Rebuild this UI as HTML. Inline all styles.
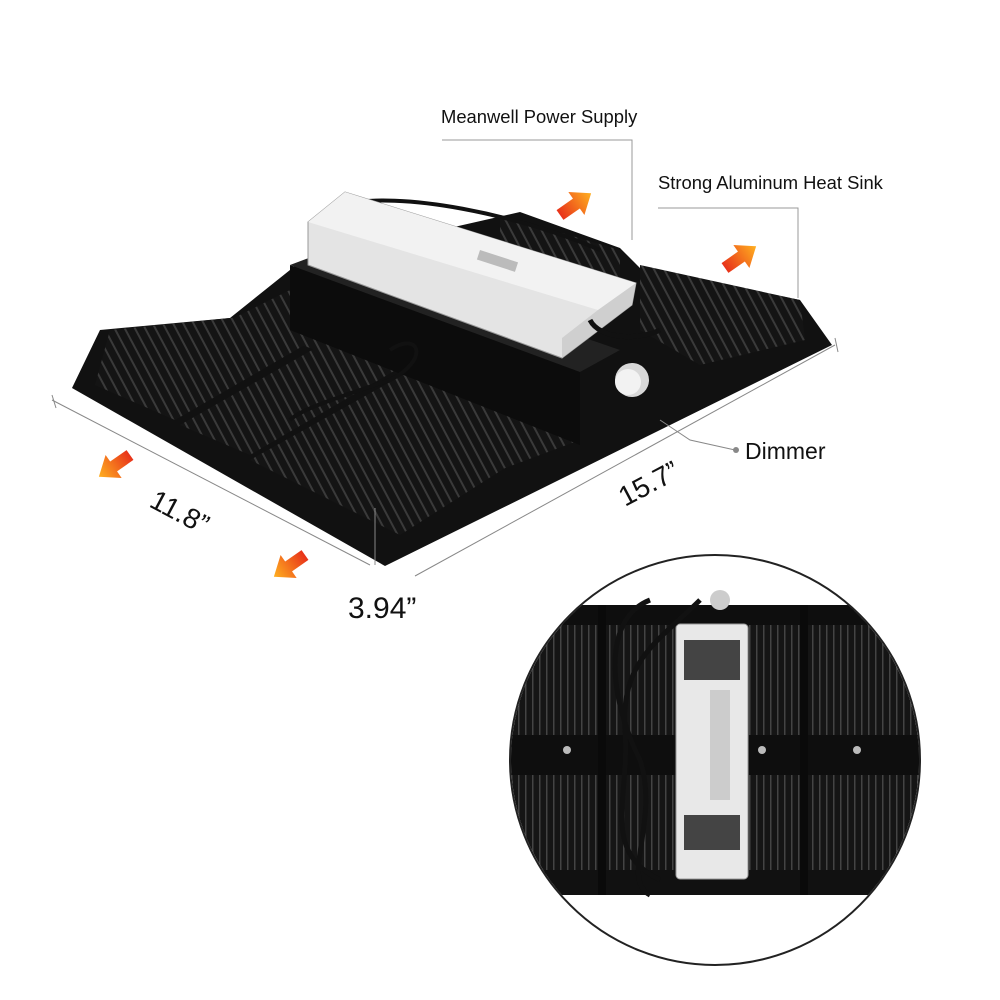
<!DOCTYPE html>
<html><head><meta charset="utf-8"><style>
html,body{margin:0;padding:0;background:#fff;}
svg{display:block;}
text{font-family:"Liberation Sans",sans-serif;fill:#111;}
</style></head><body>
<svg width="1000" height="1000" viewBox="0 0 1000 1000" xmlns="http://www.w3.org/2000/svg">
<defs>
<pattern id="fins" width="9" height="9" patternUnits="userSpaceOnUse" patternTransform="rotate(-28)">
<rect width="9" height="9" fill="#141414"/><rect width="2" height="9" fill="#3a3a3a"/>
</pattern>
<pattern id="fins2" width="7" height="7" patternUnits="userSpaceOnUse">
<rect width="7" height="7" fill="#151515"/><rect width="1.5" height="7" fill="#444"/>
</pattern>
<linearGradient id="arr" x1="0" y1="0" x2="1" y2="0">
<stop offset="0" stop-color="#e8321a"/><stop offset="1" stop-color="#ffb020"/>
</linearGradient>
<clipPath id="cc"><circle cx="715" cy="760" r="204"/></clipPath>
</defs>

<polygon points="72,388 100,330 230,318 300,262 520,212 620,248 640,268 800,300 832,345 385,566" fill="#111"/>
<polygon points="95,385 110,330 230,318 365,310 175,420" fill="url(#fins)"/>
<polygon points="180,425 365,320 430,350 250,455" fill="url(#fins)"/>
<polygon points="250,460 430,360 580,420 400,535" fill="url(#fins)"/>
<polygon points="230,320 300,285 400,318 330,355" fill="url(#fins)"/>
<polygon points="500,215 620,250 620,300 500,265" fill="url(#fins)"/>
<polygon points="640,265 800,300 805,340 700,365 640,330" fill="url(#fins)"/>
<polygon points="420,395 520,350 580,380 580,440 500,470" fill="url(#fins)"/>
<polygon points="290,265 580,372 580,445 290,330" fill="#0c0c0c"/>
<polygon points="290,265 330,250 620,350 580,372" fill="#222"/>
<circle cx="632" cy="380" r="17" fill="#d8d8d8"/><circle cx="628" cy="382" r="13" fill="#f2f2f2"/>
<path d="M340,205 C400,190 520,215 600,250 M390,350 C420,330 430,360 390,380 C330,400 300,410 290,420" stroke="#111" stroke-width="4" fill="none"/>
<polygon points="308,222 345,192 636,283 632,305 562,358 308,265" fill="#e4e4e4" stroke="#999"/>
<polygon points="308,222 345,192 636,283 598,310" fill="#f2f2f2"/>
<polygon points="598,310 636,283 632,305 562,358 562,338" fill="#cfcfcf"/>
<rect x="480" y="250" width="40" height="10" fill="#bbb" transform="rotate(18 480 250)"/>
<path d="M590,320 C600,340 640,340 660,330" stroke="#111" stroke-width="5" fill="none"/>

<text x="441" y="123" font-size="18.4">Meanwell Power Supply</text>
<polyline points="442,140 632,140 632,240" stroke="#999" fill="none"/>
<text x="658" y="189" font-size="18.4">Strong Aluminum Heat Sink</text>
<polyline points="658,208 798,208 798,298" stroke="#999" fill="none"/>
<polyline points="660,420 690,440 735,450" stroke="#888" fill="none"/>
<circle cx="736" cy="450" r="3" fill="#888"/>
<text x="745" y="459" font-size="23">Dimmer</text>

<line x1="52" y1="400" x2="370" y2="565" stroke="#888"/>
<line x1="52" y1="395" x2="56" y2="408" stroke="#888"/>
<line x1="415" y1="576" x2="835" y2="345" stroke="#888"/>
<line x1="835" y1="338" x2="838" y2="352" stroke="#888"/>
<line x1="375" y1="508" x2="375" y2="565" stroke="#888"/>
<text x="148" y="506" font-size="28" transform="rotate(28 148 506)">11.8”</text>
<text x="625" y="507" font-size="28" transform="rotate(-28 625 507)">15.7”</text>
<text x="348" y="618" font-size="30">3.94”</text>

<g fill="url(#arr)">
<polygon points="0,-6 20,-6 20,-14 38,0 20,14 20,6 0,6" transform="translate(560,215) rotate(-35)"/>
<polygon points="0,-6 20,-6 20,-14 38,0 20,14 20,6 0,6" transform="translate(725,268) rotate(-35)"/>
<polygon points="0,-6 20,-6 20,-14 38,0 20,14 20,6 0,6" transform="translate(130,455) rotate(145)"/>
<polygon points="0,-6 20,-6 20,-14 38,0 20,14 20,6 0,6" transform="translate(305,555) rotate(145)"/>
</g>

<circle cx="715" cy="760" r="205" fill="#fff" stroke="#222" stroke-width="2"/>
<g clip-path="url(#cc)">
<rect x="505" y="605" width="420" height="290" fill="url(#fins2)"/>
<rect x="505" y="605" width="420" height="20" fill="#0e0e0e"/>
<rect x="505" y="735" width="420" height="40" fill="#0e0e0e"/>
<rect x="505" y="870" width="420" height="25" fill="#111"/>
<rect x="598" y="605" width="8" height="290" fill="#0a0a0a"/>
<rect x="800" y="605" width="8" height="290" fill="#0a0a0a"/>
<circle cx="567" cy="750" r="4" fill="#bbb"/><circle cx="762" cy="750" r="4" fill="#bbb"/><circle cx="857" cy="750" r="4" fill="#bbb"/>
<rect x="676" y="624" width="72" height="255" rx="4" fill="#e8e8e8" stroke="#999"/>
<rect x="684" y="640" width="56" height="40" fill="#444"/>
<rect x="684" y="815" width="56" height="35" fill="#444"/>
<rect x="710" y="690" width="20" height="110" fill="#ccc"/>
<path d="M650,600 C600,620 610,700 640,760 C660,820 620,880 650,895 M700,600 C660,640 620,660 625,730 C630,800 600,850 660,880" stroke="#111" stroke-width="5" fill="none"/>
<circle cx="720" cy="600" r="10" fill="#ccc"/>
</g>
</svg>
</body></html>
